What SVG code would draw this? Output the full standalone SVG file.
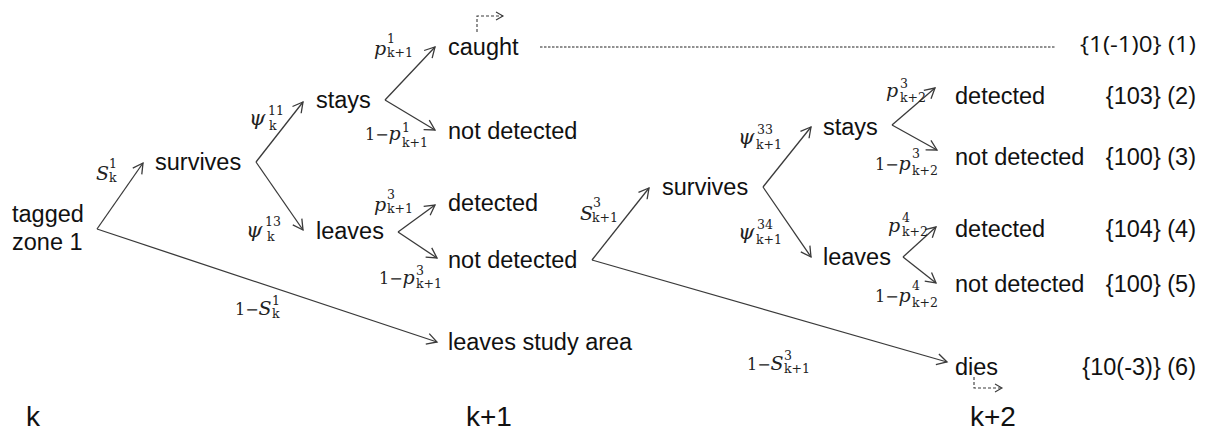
<svg xmlns="http://www.w3.org/2000/svg" width="1207" height="430" viewBox="0 0 1207 430">
<defs>
<style>
.t{font-family:"Liberation Sans",Arial,sans-serif;font-size:23.5px;fill:#111}
.r{font-family:"Liberation Sans",Arial,sans-serif;font-size:23.5px;fill:#111;text-anchor:end}
.s{font-family:"Liberation Sans",Arial,sans-serif;font-size:28px;fill:#111}
.m{font-family:"DejaVu Serif","Liberation Serif",serif;font-size:19px;fill:#222;font-style:italic}
.g{font-size:21px}
.u{font-style:normal;font-size:16px}
.sc{font-family:"DejaVu Serif","Liberation Serif",serif;font-size:12.5px;font-style:normal}
.e{fill:none;stroke:#3a3a3a;stroke-width:1.3;marker-end:url(#ah)}
.d{fill:none;stroke:#3a3a3a;stroke-width:1.1;stroke-dasharray:3 2;marker-end:url(#ahs)}
.dot{fill:none;stroke:#222;stroke-width:1;stroke-dasharray:2.5 1.5}
</style>
<marker id="ah" viewBox="-12 -7 14 14" markerWidth="14" markerHeight="14" refX="0" refY="0" orient="auto" markerUnits="userSpaceOnUse"><path d="M-10,-5.5 L0,0 L-10,5.5" fill="none" stroke="#3a3a3a" stroke-width="1.3"/></marker>
<marker id="ahs" viewBox="-8 -5 10 10" markerWidth="10" markerHeight="10" refX="0" refY="0" orient="auto" markerUnits="userSpaceOnUse"><path d="M-7,-4 L0,0 L-7,4" fill="none" stroke="#3a3a3a" stroke-width="1.1"/></marker>
</defs>

<g id="connectors">
<path class="e" d="M97,229 L143,163"/>
<path class="e" d="M97,229 L437,342"/>
<path class="e" d="M256,162 L303,102"/>
<path class="e" d="M256,162 L303,230"/>
<path class="e" d="M385,100 L435,47"/>
<path class="e" d="M385,100 L435,130"/>
<path class="e" d="M398,232 L435,205"/>
<path class="e" d="M398,232 L437,258"/>
<path class="e" d="M592,260 L649,188"/>
<path class="e" d="M592,260 L947,362"/>
<path class="e" d="M763,187 L811,127"/>
<path class="e" d="M763,187 L811,257"/>
<path class="e" d="M892,125 L935,88"/>
<path class="e" d="M892,125 L937,150"/>
<path class="e" d="M903,257 L936,227"/>
<path class="e" d="M903,257 L936,283"/>
<line class="dot" x1="540" y1="47" x2="1055" y2="47"/>
<path class="d" d="M477,32 V16 H503"/>
<path class="d" d="M974,377 V388 H1002"/>
</g>

<g id="edge-labels">
<text class="m" x="96" y="180">S<tspan class="sc" x="109" y="168">1</tspan><tspan class="sc" x="109" y="182">k</tspan></text>
<text class="m g" x="249" y="125">ψ<tspan class="sc" x="268" y="115">11</tspan><tspan class="sc" x="269" y="130">k</tspan></text>
<text class="m g" x="246" y="237">ψ<tspan class="sc" x="265" y="226">13</tspan><tspan class="sc" x="267" y="241">k</tspan></text>
<text class="m" x="235" y="315"><tspan class="u">1−</tspan><tspan>S</tspan><tspan class="sc" x="272" y="305">1</tspan><tspan class="sc" x="272" y="318">k</tspan></text>

<text class="m" x="374" y="55">p<tspan class="sc" x="387" y="43">1</tspan><tspan class="sc" x="387" y="57">k+1</tspan></text>
<text class="m" x="365" y="140"><tspan class="u">1−</tspan><tspan>p</tspan><tspan class="sc" x="402" y="132">1</tspan><tspan class="sc" x="402" y="147">k+1</tspan></text>
<text class="m" x="374" y="211">p<tspan class="sc" x="387" y="199">3</tspan><tspan class="sc" x="387" y="213">k+1</tspan></text>
<text class="m" x="379" y="284"><tspan class="u">1−</tspan><tspan>p</tspan><tspan class="sc" x="416" y="275">3</tspan><tspan class="sc" x="416" y="288">k+1</tspan></text>

<text class="m" x="580" y="220">S<tspan class="sc" x="593" y="207">3</tspan><tspan class="sc" x="592" y="222">k+1</tspan></text>
<text class="m g" x="738" y="144">ψ<tspan class="sc" x="757" y="134">33</tspan><tspan class="sc" x="756" y="149">k+1</tspan></text>
<text class="m g" x="738" y="239">ψ<tspan class="sc" x="757" y="229">34</tspan><tspan class="sc" x="756" y="244">k+1</tspan></text>
<text class="m" x="747" y="370"><tspan class="u">1−</tspan><tspan>S</tspan><tspan class="sc" x="784" y="360">3</tspan><tspan class="sc" x="784" y="373">k+1</tspan></text>

<text class="m" x="886" y="97">p<tspan class="sc" x="900" y="88">3</tspan><tspan class="sc" x="900" y="102">k+2</tspan></text>
<text class="m" x="875" y="170"><tspan class="u">1−</tspan><tspan>p</tspan><tspan class="sc" x="912" y="158">3</tspan><tspan class="sc" x="912" y="175">k+2</tspan></text>
<text class="m" x="888" y="232">p<tspan class="sc" x="902" y="222">4</tspan><tspan class="sc" x="902" y="236">k+2</tspan></text>
<text class="m" x="875" y="302"><tspan class="u">1−</tspan><tspan>p</tspan><tspan class="sc" x="912" y="290">4</tspan><tspan class="sc" x="912" y="307">k+2</tspan></text>
</g>

<g id="n-tagged"><text class="t" x="12" y="222">tagged</text><text class="t" x="12" y="250">zone 1</text></g>
<g id="n-survives1"><text class="t" x="155" y="170">survives</text></g>
<g id="n-stays1"><text class="t" x="316" y="108">stays</text></g>
<g id="n-leaves1"><text class="t" x="316" y="239">leaves</text></g>
<g id="n-caught"><text class="t" x="448" y="55">caught</text></g>
<g id="n-notdet1"><text class="t" x="448" y="139">not detected</text></g>
<g id="n-det1"><text class="t" x="448" y="211">detected</text></g>
<g id="n-notdet2"><text class="t" x="448" y="268">not detected</text></g>
<g id="n-leaves-area"><text class="t" x="448" y="350">leaves study area</text></g>
<g id="n-survives2"><text class="t" x="662" y="195">survives</text></g>
<g id="n-stays2"><text class="t" x="823" y="135">stays</text></g>
<g id="n-leaves2"><text class="t" x="823" y="265">leaves</text></g>
<g id="n-det2"><text class="t" x="955" y="104">detected</text></g>
<g id="n-notdet3"><text class="t" x="955" y="165">not detected</text></g>
<g id="n-det3"><text class="t" x="955" y="237">detected</text></g>
<g id="n-notdet4"><text class="t" x="955" y="292">not detected</text></g>
<g id="n-dies"><text class="t" x="955" y="375">dies</text></g>

<g id="histories">
<text x="1196" y="52" text-anchor="end" font-family="'Open Sans','Noto Sans',sans-serif" font-size="22" fill="#111" textLength="116" lengthAdjust="spacingAndGlyphs">{1(-1)0} (1)</text>
<text class="r" x="1196" y="104">{103} (2)</text>
<text class="r" x="1196" y="165">{100} (3)</text>
<text class="r" x="1196" y="237">{104} (4)</text>
<text class="r" x="1196" y="292">{100} (5)</text>
<text class="r" x="1196" y="375">{10(-3)} (6)</text>
</g>

<g id="time-axis">
<text class="s" x="26" y="426">k</text>
<text class="s" x="466" y="426">k+1</text>
<text class="s" x="970" y="426">k+2</text>
</g>
</svg>
